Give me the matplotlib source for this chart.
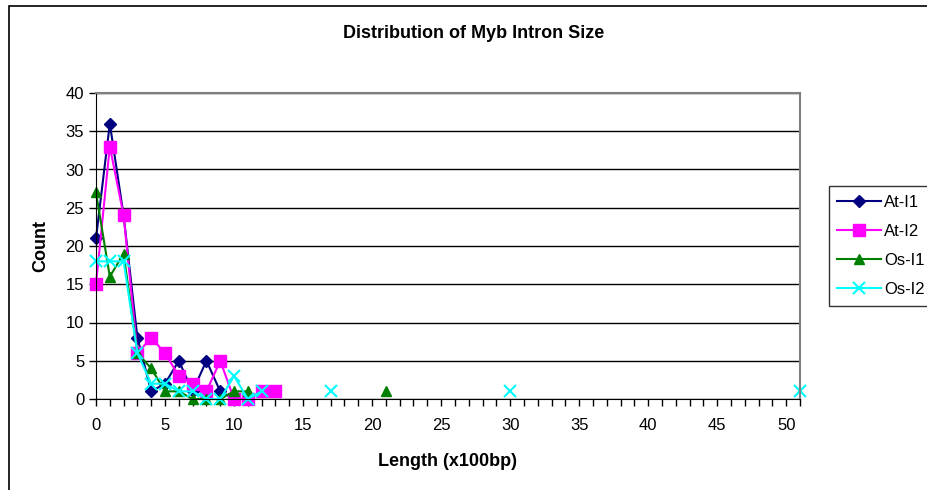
import numpy as np
import matplotlib.pyplot as plt
from matplotlib.patches import Rectangle

plt.rcParams['font.family'] = ['Liberation Sans', 'DejaVu Sans']

nan = np.nan
# count per length bin (x100bp); NaN = no data point
at_i1 = [21, 36, 24, 8, 1, 2, 5, 1, 5, 1, 0]
at_i2 = [15, 33, 24, 6, 8, 6, 3, 2, 1, 5, 0, 0, 1, 1]
os_i1 = [27, 16, 19, 6, 4, 1, 1, 0, 0, 0, 1, 1] + [nan] * 9 + [1]
os_i2 = [18, 18, 18, 6, 2, 2, 1, 1, 0, 0, 3, 0, 1] + [nan] * 4 + [1] \
    + [nan] * 12 + [1] + [nan] * 20 + [1]

names = ["At-I1", "At-I2", "Os-I1", "Os-I2"]
series = [at_i1, at_i2, os_i1, os_i2]
colors = ["#000080", "#FF00FF", "#008000", "#00FFFF"]
markers = ["D", "s", "^", "x"]
msizes = [6, 8, 7, 8]

fig = plt.figure(figsize=(9.28, 4.9), dpi=100)
# outer chart border (runs off the right and bottom edges)
fig.patches.append(Rectangle((9 / 928, -0.05), 1, 1.05 - 6 / 490, transform=fig.transFigure,
                             fill=False, edgecolor="black", linewidth=1.2))

ax = fig.add_axes([96 / 928, 1 - 399 / 490, (800 - 96) / 928, (399 - 93) / 490])

for name, ys, c, m, ms in zip(names, series, colors, markers, msizes):
    xs = np.arange(len(ys))
    ax.plot(xs, ys, color=c, marker=m, markersize=ms, linewidth=1.5,
            markeredgewidth=1.5 if m == "x" else 1, label=name, clip_on=False)

ax.set_xlim(0, 51)
ax.set_ylim(0, 40)
ax.set_xticks(range(0, 51, 5))
ax.set_xticks(range(0, 52), minor=True)
ax.set_yticks(range(0, 41, 5))
ax.tick_params(axis="both", which="both", direction="out", labelsize=12, width=1)
ax.tick_params(axis="x", which="both", length=5, pad=9)
ax.tick_params(axis="y", length=5)
ax.yaxis.grid(True, color="black", linewidth=1)
ax.set_axisbelow(True)
for s in ["top", "right"]:
    ax.spines[s].set_color("#808080")
    ax.spines[s].set_linewidth(1.5)
ax.spines["left"].set_color("black")
ax.spines["bottom"].set_color("black")

ax.set_xlabel("Length (x100bp)", fontsize=13, fontweight="bold", labelpad=14)
ax.set_ylabel("Count", fontsize=13, fontweight="bold", labelpad=12)
fig.text(474 / 928, 1 - 33 / 490, "Distribution of Myb Intron Size",
         ha="center", va="center", fontsize=13, fontweight="bold")

leg = fig.legend(loc="center left", bbox_to_anchor=(829 / 928, 1 - 246 / 490),
                 fontsize=12, frameon=True, fancybox=False, edgecolor="black",
                 handlelength=2.6, borderpad=0.5, labelspacing=0.85, handletextpad=0.2,
                 borderaxespad=0)
leg.get_frame().set_linewidth(1)

fig.savefig("out.png", dpi=100)
